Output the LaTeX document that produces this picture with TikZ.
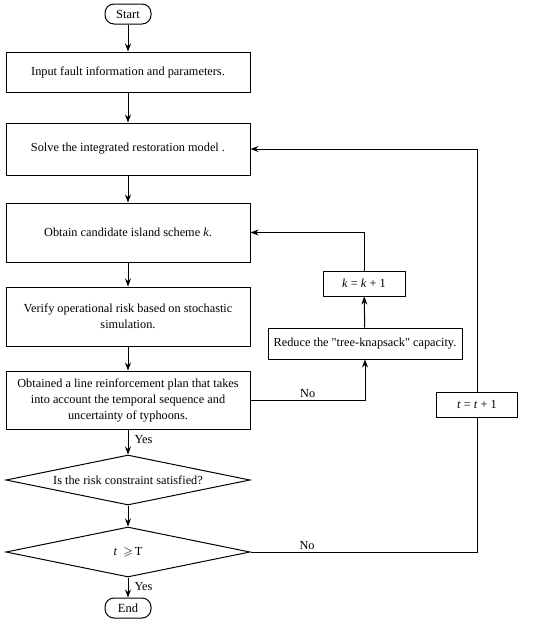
\documentclass[tikz,border=0pt]{standalone}
\usepackage{amsmath,amssymb}
\usepackage{fontspec}
\setmainfont{Liberation Serif}
\usepackage{tikz}
\usetikzlibrary{arrows.meta,positioning,calc,shapes.geometric}
\tikzset{
  term/.style={draw,rounded corners=9pt,minimum width=46pt,minimum height=20pt,inner sep=1pt,font=\fontsize{12.5}{14}\selectfont},
  proc/.style={draw,minimum width=244pt,align=center,inner sep=2pt,font=\fontsize{12.3}{16}\selectfont},
  side/.style={draw,minimum height=25pt,align=center,inner sep=2pt,font=\fontsize{12.3}{14}\selectfont},
  cond/.style={draw,diamond,aspect=4.88,minimum width=244pt,minimum height=50pt,inner sep=0pt,align=center,font=\fontsize{12.3}{14}\selectfont},
  flow/.style={-{Stealth[length=8pt,width=6pt]},line width=1pt},
  back/.style={line width=1pt},
  lbl/.style={font=\fontsize{12.3}{14}\selectfont,inner sep=2pt},
}
\begin{document}
\begin{tikzpicture}[x=1pt,y=-1pt,line width=1pt]
    \useasboundingbox (0,0) rectangle (550,622);
    % main column
    \node[term] (start) at (128,14) {Start};
    \node[proc,minimum height=40pt] (input) at (128,72) {Input fault information and parameters.};
    \node[proc,minimum height=52pt] (solve) at (128,149) {Solve the integrated restoration model .};
    \node[proc,minimum height=59pt] (island) at (128,232.5) {Obtain candidate island scheme \textit{k}.};
    \node[proc,minimum height=59pt] (verify) at (128,316.5) {Verify operational risk based on stochastic\\simulation.};
    \node[proc,minimum height=58pt] (plan) at (128,400) {Obtained a line reinforcement plan that takes\\into account the temporal sequence and\\uncertainty of typhoons.};
    \node[cond] (risk) at (128,480) {Is the risk constraint satisfied?};
    \node[cond] (tcheck) at (128,552) {\textit{t}\ \ $\geqslant$\,T};
    \node[term] (stop) at (128,608) {End};
    % side loops
    \node[side,minimum width=82pt] (kinc) at (364,283.5) {\textit{k} = \textit{k} + 1};
    \node[side,minimum width=194pt,minimum height=31pt] (reduce) at (365,343.5) {Reduce the \textquotedbl tree-knapsack\textquotedbl\ capacity.};
    \node[side,minimum width=81pt] (tinc) at (477,404.5) {\textit{t} = \textit{t} + 1};

    \draw[flow] (start) -- (input);
    \draw[flow] (input) -- (solve);
    \draw[flow] (solve) -- (island);
    \draw[flow] (island) -- (verify);
    \draw[flow] (verify) -- (plan);
    \draw[flow] (plan) -- node[lbl,right,pos=.4,xshift=4pt] {Yes} (risk);
    \draw[flow] (risk) -- (tcheck);
    \draw[flow] (tcheck) -- node[lbl,right,pos=.45,xshift=4pt] {Yes} (stop);

    \draw[flow] (plan.east) -| node[lbl,above,pos=.25] {No} (reduce.south);
    \draw[flow] (reduce) -- (kinc);
    \draw[flow] (kinc.north) |- (island.east);

    \draw[back] (tcheck.east) -| node[lbl,above,pos=.125] {No} (tinc.south);
    \draw[flow] (tinc.north) |- (solve.east);
  \end{tikzpicture}
\end{document}
